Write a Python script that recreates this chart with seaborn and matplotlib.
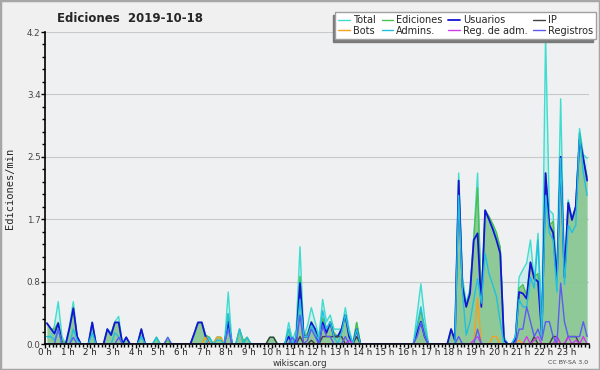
import numpy as np
import pandas as pd
import seaborn as sns
import matplotlib.pyplot as plt
from matplotlib.patches import Rectangle
from matplotlib.ticker import MultipleLocator, FixedLocator, FuncFormatter

# ediciones por minuto, tramos de 10 minutos (12 valores = 2 horas por fila)
total = [
    0.10, 0.10, 0.25, 0.57, 0.10, 0, 0.25, 0.57, 0.10, 0, 0, 0,
    0.29, 0, 0, 0, 0.20, 0.15, 0.30, 0.37, 0, 0.09, 0, 0,
    0, 0.20, 0, 0, 0, 0.09, 0, 0, 0.09, 0, 0, 0,
    0, 0, 0, 0.14, 0.29, 0.29, 0.12, 0.09, 0, 0.09, 0.09, 0,
    0.70, 0, 0, 0.20, 0.04, 0.09, 0, 0, 0, 0, 0, 0.09,
    0.09, 0, 0, 0, 0.29, 0.05, 0.20, 1.31, 0.10, 0.25, 0.49, 0.30,
    0.10, 0.60, 0.30, 0.39, 0.20, 0.20, 0.20, 0.49, 0.20, 0, 0.29, 0,
    0, 0, 0, 0, 0, 0, 0, 0, 0, 0, 0, 0,
    0, 0, 0.40, 0.81, 0.35, 0, 0, 0, 0, 0, 0, 0.20,
    0.05, 2.30, 0.90, 0.55, 0.75, 1.45, 2.30, 0.55, 1.80, 1.70, 1.60, 1.45,
    1.30, 0.10, 0, 0, 0.10, 0.90, 1.00, 1.09, 1.40, 0.86, 1.49, 0.30,
    4.15, 1.80, 1.75, 0.90, 3.30, 0.95, 1.94, 1.70, 1.85, 2.90, 2.55, 2.50,
]
ediciones = [
    0.28, 0.20, 0.20, 0.29, 0.05, 0, 0.20, 0.49, 0.10, 0, 0, 0,
    0.29, 0, 0, 0, 0.20, 0.12, 0.29, 0.29, 0, 0.09, 0, 0,
    0, 0.20, 0, 0, 0, 0.09, 0, 0, 0.05, 0, 0, 0,
    0, 0, 0, 0.14, 0.29, 0.29, 0.12, 0.09, 0, 0.09, 0.09, 0,
    0.40, 0, 0, 0.20, 0.04, 0.09, 0, 0, 0, 0, 0, 0.09,
    0.09, 0, 0, 0, 0.20, 0, 0.10, 0.91, 0.10, 0.15, 0.30, 0.20,
    0.05, 0.35, 0.20, 0.30, 0.15, 0.10, 0.20, 0.39, 0.10, 0, 0.29, 0,
    0, 0, 0, 0, 0, 0, 0, 0, 0, 0, 0, 0,
    0, 0, 0.20, 0.45, 0.20, 0, 0, 0, 0, 0, 0, 0.20,
    0.05, 2.20, 0.80, 0.50, 0.70, 1.42, 2.10, 0.55, 1.80, 1.72, 1.62, 1.50,
    1.30, 0.05, 0, 0, 0.05, 0.75, 0.80, 0.65, 1.10, 0.90, 0.95, 0.20,
    2.30, 1.60, 1.65, 0.88, 2.50, 0.90, 1.90, 1.67, 1.85, 2.84, 2.50, 2.25,
]
usuarios = [
    0.28, 0.21, 0.14, 0.28, 0, 0, 0.22, 0.48, 0.10, 0, 0, 0,
    0.29, 0, 0, 0, 0.20, 0.12, 0.29, 0.29, 0, 0.09, 0, 0,
    0, 0.20, 0, 0, 0, 0, 0, 0, 0, 0, 0, 0,
    0, 0, 0, 0.14, 0.29, 0.29, 0.10, 0, 0, 0, 0, 0,
    0.30, 0, 0, 0, 0, 0, 0, 0, 0, 0, 0, 0,
    0, 0, 0, 0, 0.10, 0, 0.05, 0.82, 0.10, 0.10, 0.29, 0.20,
    0, 0.29, 0.15, 0.29, 0.10, 0.10, 0.20, 0.39, 0.10, 0, 0.20, 0,
    0, 0, 0, 0, 0, 0, 0, 0, 0, 0, 0, 0,
    0, 0, 0.15, 0.30, 0.10, 0, 0, 0, 0, 0, 0, 0.20,
    0.05, 2.20, 0.77, 0.50, 0.68, 1.40, 1.49, 0.50, 1.80, 1.68, 1.55, 1.40,
    1.22, 0.05, 0, 0, 0.05, 0.70, 0.68, 0.61, 1.10, 0.88, 0.84, 0.14,
    2.30, 1.60, 1.50, 0.86, 2.52, 0.90, 1.90, 1.67, 1.85, 2.75, 2.50, 2.20,
]
ip = [
    0, 0, 0, 0, 0, 0, 0, 0, 0, 0, 0, 0,
    0, 0, 0, 0, 0, 0, 0, 0, 0, 0, 0, 0,
    0, 0, 0, 0, 0, 0, 0, 0, 0, 0, 0, 0,
    0, 0, 0, 0, 0, 0, 0, 0, 0, 0, 0, 0,
    0, 0, 0, 0, 0, 0, 0, 0, 0, 0, 0, 0.09,
    0.09, 0, 0, 0, 0, 0, 0, 0.10, 0, 0, 0.05, 0,
    0, 0.10, 0.10, 0.10, 0.10, 0.10, 0.10, 0, 0, 0, 0.10, 0,
    0, 0, 0, 0, 0, 0, 0, 0, 0, 0, 0, 0,
    0, 0, 0, 0, 0, 0, 0, 0, 0, 0, 0, 0,
    0, 0, 0, 0, 0, 0, 0, 0, 0, 0, 0, 0,
    0, 0, 0, 0, 0, 0, 0, 0, 0, 0.10, 0, 0,
    0, 0, 0.10, 0.10, 0, 0, 0.10, 0.10, 0.10, 0, 0, 0,
]
bots = [
    0, 0, 0, 0, 0, 0, 0, 0, 0, 0, 0, 0,
    0, 0, 0, 0, 0, 0, 0, 0, 0, 0, 0, 0,
    0, 0, 0, 0, 0, 0, 0, 0, 0, 0, 0, 0,
    0, 0, 0, 0, 0, 0, 0.09, 0, 0, 0.09, 0.09, 0,
    0, 0, 0, 0, 0, 0, 0, 0, 0, 0, 0, 0,
    0, 0, 0, 0, 0, 0, 0, 0, 0, 0, 0, 0,
    0, 0, 0, 0, 0, 0, 0, 0, 0, 0, 0, 0,
    0, 0, 0, 0, 0, 0, 0, 0, 0, 0, 0, 0,
    0, 0, 0, 0, 0, 0, 0, 0, 0, 0, 0, 0,
    0, 0, 0, 0, 0, 0, 0.62, 0, 0, 0, 0.10, 0.10,
    0, 0, 0, 0, 0, 0.05, 0, 0, 0, 0, 0, 0,
    0, 0, 0, 0.05, 0, 0, 0, 0, 0, 0, 0, 0,
]
admins = [
    0.10, 0.10, 0.05, 0.20, 0, 0, 0, 0.20, 0.05, 0, 0, 0,
    0.15, 0, 0, 0, 0, 0, 0.15, 0.10, 0, 0, 0, 0,
    0, 0.10, 0, 0, 0, 0.09, 0, 0, 0, 0, 0, 0,
    0, 0, 0, 0, 0, 0, 0, 0.09, 0, 0.05, 0.05, 0,
    0.41, 0, 0, 0.20, 0, 0.09, 0, 0, 0, 0, 0, 0,
    0, 0, 0, 0, 0.20, 0, 0.10, 0.60, 0.10, 0.10, 0.25, 0.15,
    0.05, 0.45, 0.20, 0.30, 0.10, 0, 0.15, 0.40, 0.15, 0, 0.20, 0,
    0, 0, 0, 0, 0, 0, 0, 0, 0, 0, 0, 0,
    0, 0, 0.25, 0.50, 0.20, 0, 0, 0, 0, 0, 0, 0,
    0, 2.00, 0.70, 0.12, 0.30, 0.60, 0.88, 0.55, 1.22, 0.95, 0.80, 0.64,
    0.30, 0, 0, 0, 0.10, 0.60, 0.50, 0.50, 0.90, 0.75, 1.40, 0.10,
    2.00, 1.50, 1.40, 0.70, 2.50, 0.80, 1.60, 1.50, 1.60, 2.84, 2.30, 2.00,
]
reg_adm = [
    0, 0, 0, 0, 0, 0, 0, 0, 0, 0, 0, 0,
    0, 0, 0, 0, 0, 0, 0, 0, 0, 0, 0, 0,
    0, 0, 0, 0, 0, 0, 0, 0, 0, 0, 0, 0,
    0, 0, 0, 0, 0, 0, 0, 0, 0, 0, 0, 0,
    0, 0, 0, 0, 0, 0, 0, 0, 0, 0, 0, 0,
    0, 0, 0, 0, 0, 0, 0, 0, 0, 0, 0, 0,
    0, 0, 0, 0, 0, 0, 0, 0, 0.05, 0, 0, 0,
    0, 0, 0, 0, 0, 0, 0, 0, 0, 0, 0, 0,
    0, 0, 0, 0, 0, 0, 0, 0, 0, 0, 0, 0,
    0, 0, 0, 0, 0, 0.05, 0.10, 0, 0, 0, 0, 0,
    0, 0, 0, 0, 0, 0, 0, 0.10, 0, 0.05, 0.10, 0,
    0, 0, 0, 0.10, 0, 0, 0.10, 0, 0.05, 0, 0.10, 0,
]
registros = [
    0, 0, 0, 0.20, 0, 0, 0, 0.09, 0, 0, 0, 0,
    0, 0, 0, 0, 0, 0, 0, 0.09, 0, 0, 0, 0,
    0, 0, 0, 0, 0, 0, 0, 0, 0.09, 0, 0, 0,
    0, 0, 0, 0, 0, 0, 0, 0, 0, 0, 0, 0,
    0.20, 0, 0, 0, 0, 0, 0, 0, 0, 0, 0, 0,
    0, 0, 0, 0, 0, 0.09, 0, 0.39, 0, 0.05, 0.20, 0.10,
    0, 0.25, 0.10, 0.10, 0, 0, 0, 0.10, 0, 0, 0, 0,
    0, 0, 0, 0, 0, 0, 0, 0, 0, 0, 0, 0,
    0, 0, 0.10, 0.29, 0.10, 0, 0, 0, 0, 0, 0, 0,
    0, 0.10, 0, 0, 0, 0, 0.20, 0, 0, 0, 0, 0,
    0, 0, 0, 0, 0, 0.20, 0.20, 0.50, 0.30, 0.10, 0.20, 0.05,
    0.30, 0.30, 0.10, 0, 0.82, 0.30, 0.10, 0.10, 0.10, 0.10, 0.30, 0.10,
]

series = {
    'Total': total, 'Ediciones': ediciones, 'Usuarios': usuarios, 'IP': ip,
    'Bots': bots, 'Admins.': admins, 'Reg. de adm.': reg_adm, 'Registros': registros,
}
colores = {
    'Total': '#3fdccf', 'Ediciones': '#4cbf4c', 'Usuarios': '#1414d8', 'IP': '#404040',
    'Bots': '#f5a020', 'Admins.': '#22bfe0', 'Reg. de adm.': '#d23cf0', 'Registros': '#5c5cf2',
}
grosor = {'Usuarios': 1.3}

hora = (np.arange(len(total)) + 0.5) / 6  # centro de cada tramo de 10 min

df = pd.DataFrame([
    {'hora': h, 'valor': v, 'serie': nombre}
    for nombre, vals in series.items() for h, v in zip(hora, vals)
])

sns.set_theme(style='ticks')
plt.rcParams['font.family'] = ['DejaVu Sans']

fondo = '#f0f0f0'
fig = plt.figure(figsize=(6, 3.7), dpi=100, facecolor=fondo)
ax = fig.add_axes([45 / 600, 1 - 344 / 370, 544 / 600, 312 / 370])
ax.set_facecolor('#eef0f1')

# rellenos
ax.fill_between(hora, total, color='#40e0d0', alpha=0.18, lw=0, zorder=1)
ax.fill_between(hora, ediciones, color='#8cc794', alpha=0.95, lw=0, zorder=1.5)

for nombre in series:
    sns.lineplot(data=df[df['serie'] == nombre], x='hora', y='valor',
                 color=colores[nombre], linewidth=grosor.get(nombre, 1.0),
                 label=nombre, ax=ax, zorder=2.2)

ax.set_xlim(0, 24)
ax.set_ylim(0, 4.2)
ax.xaxis.set_major_locator(MultipleLocator(1))
ax.xaxis.set_minor_locator(MultipleLocator(1 / 6))
ax.xaxis.set_major_formatter(FuncFormatter(lambda v, p: f'{int(v)} h' if v < 24 else ''))
yt = [0, 0.84, 1.68, 2.52, 3.36, 4.2]
ax.yaxis.set_major_locator(FixedLocator(yt))
ax.yaxis.set_minor_locator(MultipleLocator(0.168))
ax.yaxis.set_major_formatter(FuncFormatter(lambda v, p: f'{v:.1f}'))
ax.tick_params(axis='both', which='major', labelsize=6.3, length=2.8, width=1,
               color='black', pad=0.3)
ax.tick_params(axis='both', which='minor', length=2, width=1, color='black')
ax.tick_params(axis='x', labelcolor='#222222')
ax.tick_params(axis='y', labelcolor='#444444')
ax.grid(axis='y', color='#c9c9c9', lw=0.8)
ax.set_axisbelow(True)
for s in ['top', 'right']:
    ax.spines[s].set_visible(False)
for s in ['left', 'bottom']:
    ax.spines[s].set_color('black')
    ax.spines[s].set_linewidth(1.2)
    ax.spines[s].set_zorder(5)
ax.set_xlabel('')
ax.set_ylabel('')

# leyenda: orden de columnas como en wikiscan
handles, labels = ax.get_legend_handles_labels()
orden = ['Total', 'Bots', 'Ediciones', 'Admins.', 'Usuarios', 'Reg. de adm.', 'IP', 'Registros']
h = [handles[labels.index(n)] for n in orden]
leg = ax.legend(h, orden, ncol=4, loc='upper right',
                bbox_to_anchor=(596 / 600, 1 - 12 / 370), bbox_transform=fig.transFigure,
                fontsize=7, frameon=True, fancybox=False, handlelength=1.2,
                handletextpad=0.3, columnspacing=0.6, labelspacing=0.1,
                borderpad=0.3, borderaxespad=0,
                shadow={'ox': -2, 'oy': -2, 'color': '#7a7a7a', 'alpha': 1})
leg.get_frame().set_facecolor('white')
leg.get_frame().set_edgecolor('#a0a0a0')
leg.get_frame().set_alpha(1)
leg.set_zorder(10)

fig.text(130 / 600, 1 - 18 / 370, 'Ediciones  2019-10-18', ha='center', va='center',
         fontsize=8.5, fontweight='bold')
fig.text(10 / 600, 1 - 188 / 370, 'Ediciones/min', rotation=90, ha='center', va='center',
         fontsize=7.5, family='DejaVu Sans Mono')
fig.text(300 / 600, 1 - 363.5 / 370, 'wikiscan.org', ha='center', va='center', fontsize=6.3,
         color='#333333')
fig.text(588 / 600, 1 - 363 / 370, 'CC BY-SA 3.0', ha='right', va='center', fontsize=4.5,
         color='#444444')
fig.patches.append(Rectangle((0, 0), 1, 1, transform=fig.transFigure, fill=False,
                             edgecolor='#a6a6a6', lw=2.5))

fig.savefig('out.png', dpi=100, facecolor=fondo)
